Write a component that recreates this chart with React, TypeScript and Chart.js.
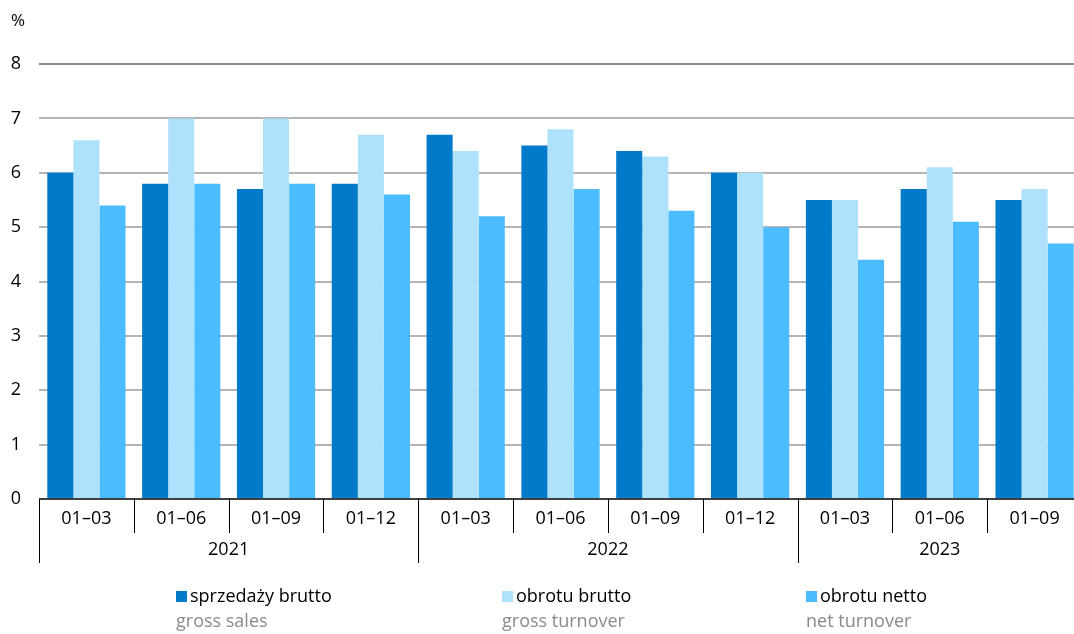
import { useEffect, useRef } from "react";
import { Chart, registerables } from "chart.js";

Chart.register(...registerables);

// Periods (cumulative months) and the years they belong to
const periods = ["01–03", "01–06", "01–09", "01–12", "01–03", "01–06", "01–09", "01–12", "01–03", "01–06", "01–09"];
const years = ["2021", "2022", "2023"];
const yearSpans = [4, 4, 3];

// Profitability ratios, %
const grossSales = [6.0, 5.8, 5.7, 5.8, 6.7, 6.5, 6.4, 6.0, 5.5, 5.7, 5.5];
const grossTurnover = [6.6, 7.0, 7.0, 6.7, 6.4, 6.8, 6.3, 6.0, 5.5, 6.1, 5.7];
const netTurnover = [5.4, 5.8, 5.8, 5.6, 5.2, 5.7, 5.3, 5.0, 4.4, 5.1, 4.7];

const yTicks = [0, 1, 2, 3, 4, 5, 6, 7, 8];

const seriesPl = ["sprzedaży brutto", "obrotu brutto", "obrotu netto"];
const seriesEn = ["gross sales", "gross turnover", "net turnover"];
const seriesColors = ["#007AC9", "#AEE2FC", "#4ABCFF"];

const FONT = '"Open Sans", "Noto Sans", sans-serif';
const legendX = [176, 502, 806];

const decorations = {
  id: "decorations",
  afterDraw(chart: any) {
    const { ctx, chartArea } = chart;
    const x = chart.scales.x;
    const y = chart.scales.y;
    const y0 = y.getPixelForValue(0);
    const half = (x.getPixelForValue(1) - x.getPixelForValue(0)) / 2;

    ctx.save();
    ctx.fillStyle = "#000";
    ctx.textBaseline = "middle";

    // unit label
    ctx.font = `17px ${FONT}`;
    ctx.textAlign = "center";
    ctx.fillText("%", 18, 21);

    // y tick labels
    ctx.font = `18px ${FONT}`;
    yTicks.forEach((v) => {
      ctx.fillText(String(v), 16, y.getPixelForValue(v));
    });

    // x axis line
    ctx.strokeStyle = "#000";
    ctx.lineWidth = 1.5;
    ctx.beginPath();
    ctx.moveTo(chartArea.left, y0);
    ctx.lineTo(chartArea.right, y0);
    ctx.stroke();

    // separators between periods and between years
    const yearBounds = new Set<number>();
    let acc = 0;
    yearBounds.add(0);
    yearSpans.forEach((s) => {
      acc += s;
      yearBounds.add(acc);
    });
    ctx.lineWidth = 1;
    for (let i = 0; i <= periods.length; i++) {
      const bx = Math.round(x.getPixelForValue(i) - half) + 0.5;
      const bottom = yearBounds.has(i) ? y0 + 64 : y0 + 34;
      ctx.beginPath();
      ctx.moveTo(bx, y0);
      ctx.lineTo(bx, bottom);
      ctx.stroke();
    }

    // period labels
    ctx.font = `18px ${FONT}`;
    periods.forEach((p, i) => {
      ctx.fillText(p, x.getPixelForValue(i), y0 + 20);
    });

    // year labels
    let start = 0;
    years.forEach((yr, k) => {
      const end = start + yearSpans[k] - 1;
      const cx = (x.getPixelForValue(start) + x.getPixelForValue(end)) / 2;
      ctx.fillText(yr, cx, y0 + 51);
      start += yearSpans[k];
    });

    // legend: swatch + Polish name, English name below starting under the swatch
    ctx.textAlign = "left";
    seriesPl.forEach((name, k) => {
      const lx = legendX[k];
      ctx.fillStyle = seriesColors[k];
      ctx.fillRect(lx, 591, 11, 11);
      ctx.fillStyle = "#000";
      ctx.font = `18px ${FONT}`;
      ctx.fillText(name, lx + 14, 597);
      ctx.fillStyle = "#8a8a8a";
      ctx.fillText(seriesEn[k], lx, 622);
    });

    ctx.restore();
  },
};

export default function App() {
  const canvasRef = useRef<HTMLCanvasElement | null>(null);

  useEffect(() => {
    const canvas = canvasRef.current;
    if (!canvas) return;
    const chart = new Chart(canvas, {
      type: "bar",
      data: {
        labels: periods,
        datasets: [
          { label: seriesPl[0], data: grossSales, backgroundColor: seriesColors[0] },
          { label: seriesPl[1], data: grossTurnover, backgroundColor: seriesColors[1] },
          { label: seriesPl[2], data: netTurnover, backgroundColor: seriesColors[2] },
        ],
      },
      options: {
        animation: false,
        responsive: true,
        maintainAspectRatio: false,
        layout: { padding: { left: 39, right: 3, top: 64, bottom: 135 } },
        datasets: {
          bar: { categoryPercentage: 0.825, barPercentage: 1.0, borderWidth: 0 },
        },
        plugins: {
          legend: { display: false },
          tooltip: { enabled: false },
          title: { display: false },
        },
        scales: {
          x: { display: false },
          y: {
            min: 0,
            max: 8,
            ticks: { display: false, stepSize: 1 },
            border: { display: false },
            grid: {
              drawTicks: false,
              lineWidth: 2,
              color: (c: any) =>
                c.tick && c.tick.value === 0
                  ? "rgba(0,0,0,0)"
                  : c.tick && c.tick.value === 8
                  ? "#8c8c8c"
                  : "#b5b5b5",
            },
            afterFit: (s: any) => {
              s.width = 0;
            },
          },
        },
      },
      plugins: [decorations],
    });
    return () => chart.destroy();
  }, []);

  return (
    <div style={{ position: "fixed", left: 0, top: 0, right: 0, bottom: 0, overflow: "hidden", background: "#fff" }}>
      <div style={{ position: "relative", width: 1085, height: 634 }}>
        <canvas ref={canvasRef} />
      </div>
    </div>
  );
}
